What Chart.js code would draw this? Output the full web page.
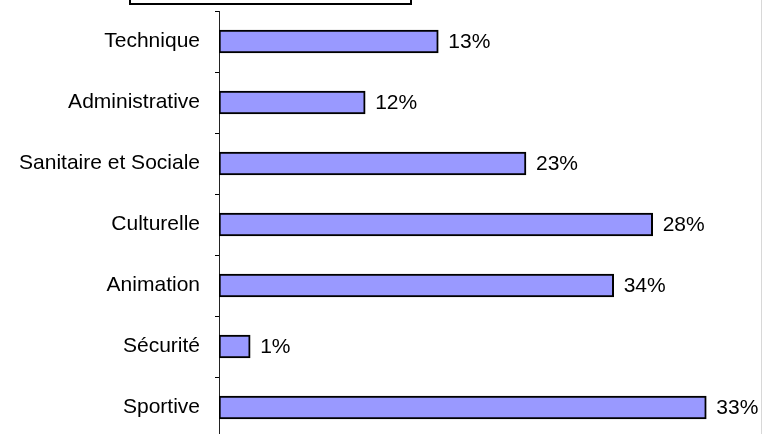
<!DOCTYPE html>
<html>
<head>
<meta charset="utf-8">
<script src="https://cdn.jsdelivr.net/npm/chart.js@4"></script>
<style>
    html, body { margin: 0; padding: 0; background: #fff; overflow: hidden; }
    #wrap { position: relative; width: 762px; height: 440px; }
    #topBox { position: absolute; left: 129px; top: -20px; width: 283px; height: 25px; border: 2px solid #000; box-sizing: border-box; background: #fff; }
    #rightEdge { position: absolute; left: 761px; top: 0; width: 1px; height: 440px; background: #d8d8d8; }
</style>
</head>
<body>
<div id="wrap">
    <canvas id="chart" width="762" height="440"></canvas>
    <div id="topBox"></div>
    <div id="rightEdge"></div>
</div>
<script>
// données
const categories = ['Technique', 'Administrative', 'Sanitaire et Sociale', 'Culturelle', 'Animation', 'Sécurité', 'Sportive'];
const barValues = [45, 30, 63, 89, 81, 6.4, 100];   // longueur des barres (relative, Sportive = 100)
const percentLabels = ['13%', '12%', '23%', '28%', '34%', '1%', '33%'];

const FONT = '"Liberation Sans", Arial, sans-serif';

// étiquettes de pourcentage au bout des barres
const percentPlugin = {
    id: 'percentPlugin',
    afterDatasetsDraw(chart) {
        const ctx = chart.ctx;
        const meta = chart.getDatasetMeta(0);
        ctx.save();
        ctx.font = '21px ' + FONT;
        ctx.fillStyle = '#000';
        ctx.textAlign = 'left';
        ctx.textBaseline = 'middle';
        meta.data.forEach((bar, i) => {
            ctx.fillText(percentLabels[i], bar.x + 10, bar.y + 1);
        });
        ctx.restore();
    }
};

const ctx = document.getElementById('chart').getContext('2d');
new Chart(ctx, {
    type: 'bar',
    data: {
        labels: categories,
        datasets: [{
            data: barValues,
            backgroundColor: '#9999ff',
            borderColor: '#000',
            borderWidth: 2,
            borderSkipped: false,
            barThickness: 23
        }]
    },
    options: {
        indexAxis: 'y',
        responsive: false,
        animation: false,
        layout: { padding: { top: 11, bottom: 2, right: 7, left: 0 } },
        plugins: {
            legend: { display: false },
            tooltip: { enabled: false }
        },
        scales: {
            x: {
                display: false,
                min: 0,
                max: 110
            },
            y: {
                afterFit: (s) => {
                    s.width = 219;
                    s.paddingTop = 0;
                    s.paddingBottom = 0;
                },
                offset: true,
                grid: {
                    offset: true,
                    drawOnChartArea: false,
                    drawTicks: true,
                    tickLength: 4,
                    color: '#000'
                },
                border: { display: true, color: '#222', width: 1 },
                ticks: {
                    padding: 15,
                    color: '#000',
                    font: { family: FONT, size: 21 }
                }
            }
        }
    },
    plugins: [percentPlugin]
});
</script>
</body>
</html>
